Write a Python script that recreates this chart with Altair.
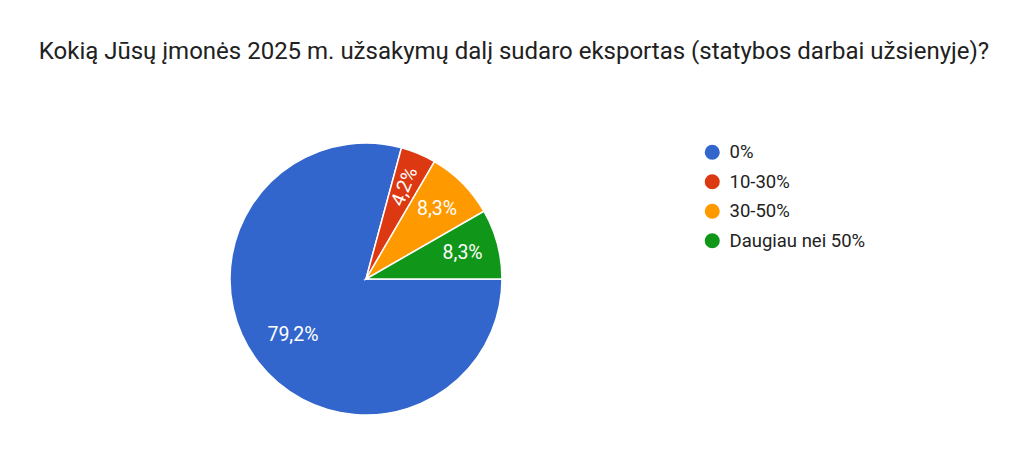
import math
import altair as alt
import pandas as pd

title_text = "Kokią Jūsų įmonės 2025 m. užsakymų dalį sudaro eksportas (statybos darbai užsienyje)?"
categories = ["0%", "10-30%", "30-50%", "Daugiau nei 50%"]
values = [79.2, 4.2, 8.3, 8.3]
labels = ["79,2%", "4,2%", "8,3%", "8,3%"]
colors = ["#3366cc", "#dc3912", "#ff9900", "#109618"]

df = pd.DataFrame({
    "cat": categories,
    "value": values,
    "label": labels,
    "idx": list(range(len(categories))),
})

CX, CY, R = 358, 271, 136
start = math.pi / 2

theta = alt.Theta("value:Q", stack=True,
                  scale=alt.Scale(range=[start, start + 2 * math.pi]))
color = alt.Color("cat:N",
                  scale=alt.Scale(domain=categories, range=colors),
                  legend=alt.Legend(
                      title=None, orient="none", legendX=695, legendY=135,
                      symbolType="circle", symbolSize=227, symbolStrokeWidth=0,
                      labelFont="Roboto", labelFontSize=18.5, labelColor="#222222",
                      labelOffset=8, rowPadding=10.5))
order = alt.Order("idx:Q")

base = alt.Chart(df).encode(theta=theta, order=order)

arcs = base.mark_arc(outerRadius=R, stroke="white", strokeWidth=1.5).encode(
    x=alt.value(CX), y=alt.value(CY), color=color)

txt_blue = base.mark_text(radius=92, font="Roboto", fontSize=19.5, color="white").encode(
    x=alt.value(CX), y=alt.value(CY),
    text=alt.condition(alt.datum.idx == 0, "label:N", alt.value("")))

txt_other = base.mark_text(radius=100, font="Roboto", fontSize=19.5, color="white").encode(
    x=alt.value(CX), y=alt.value(CY),
    text=alt.condition(alt.datum.idx > 0, "label:N", alt.value("")),
    angle=alt.condition(alt.datum.idx == 1, alt.value(292.5), alt.value(0)))

title_df = pd.DataFrame({"t": [title_text]})
title = alt.Chart(title_df).mark_text(font="Roboto", fontSize=24, color="#212121",
                                      baseline="alphabetic").encode(
    text="t:N", x=alt.value(506), y=alt.value(51))

chart = alt.layer(arcs, txt_blue, txt_other, title).properties(
    width=1008, height=451, autosize=alt.AutoSizeParams(type="none"), padding=0
).configure_view(stroke=None)

chart.save("out.html", embed_options={"renderer": "svg", "actions": False})
